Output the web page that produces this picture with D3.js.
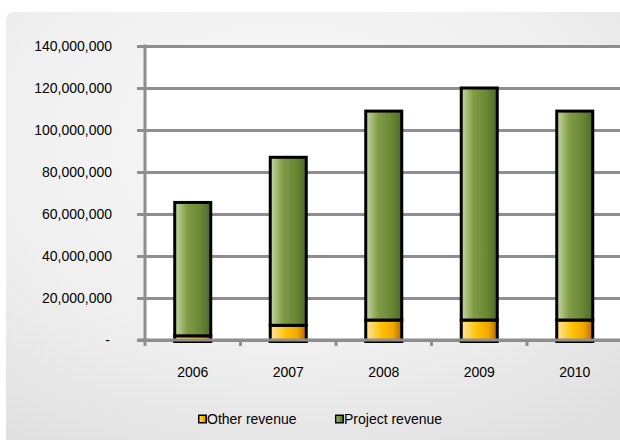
<!DOCTYPE html>
<html>
<head>
<meta charset="utf-8">
<script src="https://cdn.jsdelivr.net/npm/d3@7"></script>
<style>
  html, body { margin: 0; padding: 0; background: #ffffff; }
  svg { display: block; font-family: "Liberation Sans", Arial, sans-serif; }
</style>
</head>
<body>
<svg id="chart" width="620" height="440"></svg>
<script>
// Revenue by year, split into two stacked components
const years = ["2006", "2007", "2008", "2009", "2010"];
const otherRevenue = [2000000, 7000000, 9500000, 9500000, 9500000];
const projectRevenue = [63500000, 80000000, 99500000, 110500000, 99500000];
const seriesNames = ["Other revenue", "Project revenue"];
const yTicks = [0, 20000000, 40000000, 60000000, 80000000, 100000000, 120000000, 140000000];

const svg = d3.select("#chart");
const W = 620, H = 440;
const plot = { left: 145, top: 46, right: 622.5, bottom: 340 };

const defs = svg.append("defs");

// Panel background: soft grey radial shading
const bg = defs.append("radialGradient").attr("id", "panelBg")
  .attr("cx", "45%").attr("cy", "30%").attr("r", "80%");
bg.append("stop").attr("offset", "0%").attr("stop-color", "#f9f9f9");
bg.append("stop").attr("offset", "60%").attr("stop-color", "#efefef");
bg.append("stop").attr("offset", "100%").attr("stop-color", "#e0e0e0");

// Cylinder-like horizontal shading for the bar fills
function barGradient(id, stops) {
  const g = defs.append("linearGradient").attr("id", id)
    .attr("x1", "0%").attr("x2", "100%").attr("y1", "0%").attr("y2", "0%");
  stops.forEach(([o, c]) => g.append("stop").attr("offset", o).attr("stop-color", c));
}
barGradient("gOther", [["0%", "#ffe6a0"], ["45%", "#ffc000"], ["75%", "#f0a800"], ["100%", "#b86a00"]]);
barGradient("gProject", [["0%", "#c8d8a8"], ["35%", "#7f9c44"], ["70%", "#6a8835"], ["100%", "#4f6a28"]]);
const fills = ["url(#gOther)", "url(#gProject)"];

svg.append("rect")
  .attr("x", 6).attr("y", 12).attr("width", W).attr("height", H)
  .attr("rx", 8).attr("fill", "url(#panelBg)");

const x = d3.scaleBand().domain(years)
  .range([plot.left, plot.right])
  .paddingInner(0.623).paddingOuter(0.3115);
const y = d3.scaleLinear().domain([0, 140000000]).range([plot.bottom, plot.top]);

// White plotting area
svg.append("rect")
  .attr("x", plot.left).attr("y", plot.top)
  .attr("width", W - plot.left).attr("height", plot.bottom - plot.top)
  .attr("fill", "#ffffff");

const gridColor = "#8e8e8e";

// Value axis: gridlines + labels
const yAxis = d3.axisLeft(y)
  .tickValues(yTicks)
  .tickSize(-(W - 137))
  .tickPadding(25)
  .tickFormat(d => d === 0 ? "-" : d3.format(",")(d));
const gy = svg.append("g").attr("transform", "translate(137,0)").call(yAxis);
gy.select(".domain").remove();
gy.selectAll(".tick line").attr("stroke", gridColor).attr("stroke-width", 3);
gy.selectAll(".tick text")
  .attr("fill", "#000").style("font-size", "14px")
  .style("font-family", "'Liberation Sans', Arial, sans-serif");
gy.selectAll(".tick").filter(d => d === 0).select("text").attr("dx", "-2");

// Stacked bars
const rows = years.map((yr, i) => ({ year: yr, other: otherRevenue[i], project: projectRevenue[i] }));
const stack = d3.stack().keys(["other", "project"])(rows);

svg.append("g").selectAll("g").data(stack).join("g")
  .attr("fill", (d, i) => fills[i])
  .selectAll("rect").data(d => d).join("rect")
  .attr("x", d => x(d.data.year))
  .attr("width", x.bandwidth())
  .attr("y", d => y(d[1]))
  .attr("height", d => y(d[0]) - y(d[1]) + (d[0] === 0 ? 1.5 : 0))
  .attr("stroke", "#000").attr("stroke-width", 3);

// Baseline, vertical axis and category boundary ticks
svg.append("line")
  .attr("x1", 137).attr("x2", W).attr("y1", y(0)).attr("y2", y(0))
  .attr("stroke", gridColor).attr("stroke-width", 3);
svg.append("line")
  .attr("x1", plot.left).attr("x2", plot.left).attr("y1", plot.top - 1.5).attr("y2", y(0) + 6)
  .attr("stroke", gridColor).attr("stroke-width", 3);
const bounds = d3.range(years.length + 1).map(i => plot.left + i * x.step());
svg.append("g").selectAll("line").data(bounds.slice(1)).join("line")
  .attr("x1", d => d).attr("x2", d => d)
  .attr("y1", y(0)).attr("y2", y(0) + 6)
  .attr("stroke", gridColor).attr("stroke-width", 3);

// Category labels
const xAxis = d3.axisBottom(x).tickSize(0).tickPadding(27);
const gx = svg.append("g").attr("transform", `translate(0,${y(0)})`).call(xAxis);
gx.select(".domain").remove();
gx.selectAll(".tick text")
  .attr("fill", "#000").style("font-size", "14px")
  .style("font-family", "'Liberation Sans', Arial, sans-serif");

// Legend
const legendX = [198, 335];
const legend = svg.append("g").selectAll("g").data(seriesNames).join("g")
  .attr("transform", (d, i) => `translate(${legendX[i]},419)`);
legend.append("rect")
  .attr("x", 0.75).attr("y", -3.75).attr("width", 7.5).attr("height", 7.5)
  .attr("fill", (d, i) => fills[i]).attr("stroke", "#000").attr("stroke-width", 1.5);
legend.append("text")
  .attr("x", 9).attr("dy", "0.35em")
  .style("font-size", "14px").attr("fill", "#000")
  .text(d => d);
</script>
</body>
</html>
